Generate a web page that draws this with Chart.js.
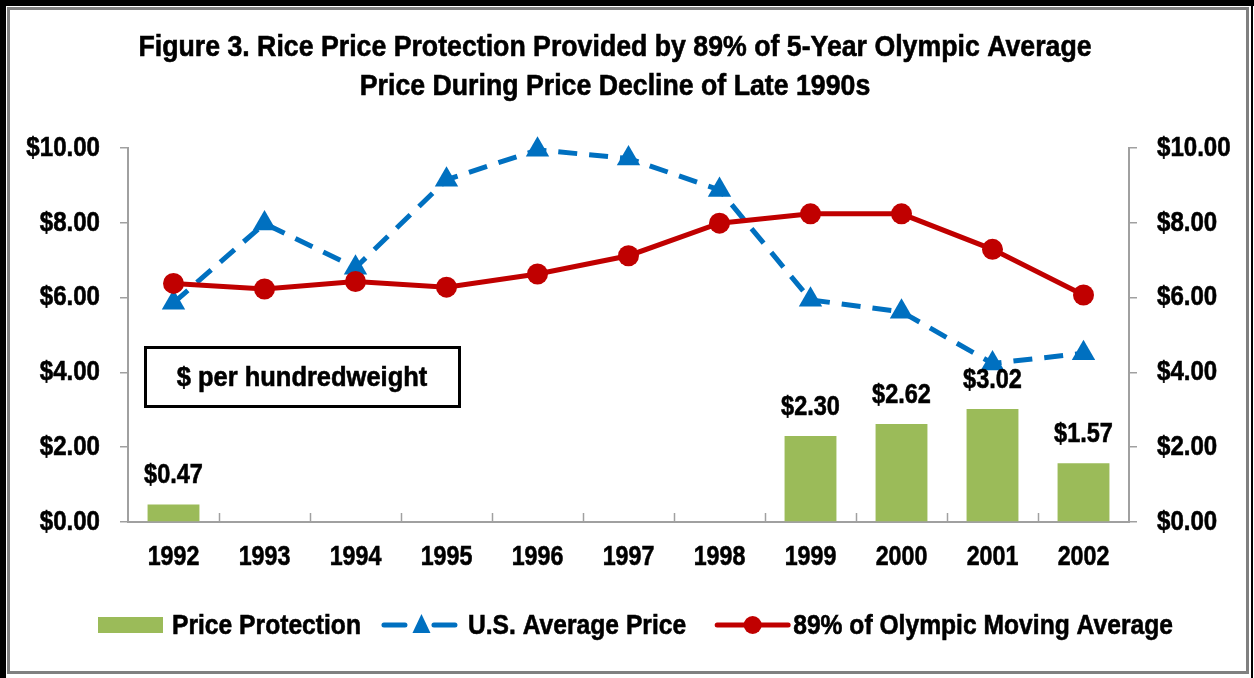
<!DOCTYPE html>
<html>
<head>
<meta charset="utf-8">
<script src="https://cdn.jsdelivr.net/npm/chart.js@4.4.1/dist/chart.umd.min.js"></script>
<style>
  html, body { margin: 0; padding: 0; background: #fff; }
  #wrap { width: 1254px; height: 678px; position: relative; }
</style>
</head>
<body>
<div id="wrap"><canvas id="riceChart" width="1254" height="678"></canvas></div>
<script>
// data ($ per cwt)
const years = ['1992', '1993', '1994', '1995', '1996', '1997', '1998', '1999', '2000', '2001', '2002'];
const protection = [0.47, null, null, null, null, null, null, 2.30, 2.62, 3.02, 1.57];
const usPrice = [5.86, 7.98, 6.80, 9.15, 9.95, 9.72, 8.88, 5.94, 5.62, 4.24, 4.51];
const olympic89 = [6.38, 6.23, 6.43, 6.28, 6.63, 7.12, 7.99, 8.24, 8.24, 7.29, 6.07];
const yTicks = [0, 2, 4, 6, 8, 10];

const titleLines = [
    'Figure 3. Rice Price Protection Provided by 89% of 5-Year Olympic Average',
    'Price During Price Decline of Late 1990s'
];
const unitNote = '$ per hundredweight';

// no Arial Narrow here, so bold Liberation Sans squeezed sideways
const FONT = '"Liberation Sans", Arial, sans-serif';
const SQUEEZE = 0.86;
const GREEN = '#9BBB59';
const BLUE = '#0070C0';
const RED = '#C00000';
const AXIS = '#A0A0A0';

const money = v => '$' + Number(v).toFixed(2);

function narrowText(ctx, text, x, y, align, size, sx) {
    ctx.save();
    ctx.font = 'bold ' + size + 'px ' + FONT;
    ctx.translate(x, y);
    ctx.scale(sx || SQUEEZE, 1);
    ctx.textAlign = align;
    ctx.fillText(text, 0, 0);
    // a hair of stroke so it reads as heavy as the original
    ctx.strokeStyle = ctx.fillStyle;
    ctx.lineWidth = 0.6;
    ctx.strokeText(text, 0, 0);
    ctx.restore();
}

function narrowWidth(ctx, text, size, sx) {
    ctx.save();
    ctx.font = 'bold ' + size + 'px ' + FONT;
    const w = ctx.measureText(text).width * (sx || SQUEEZE);
    ctx.restore();
    return w;
}

const decorations = {
    id: 'decorations',
    beforeDraw(chart) {
        const ctx = chart.ctx;
        ctx.save();
        ctx.fillStyle = '#fff';
        ctx.fillRect(0, 0, chart.width, chart.height);
        // outer black edge (top / left / right)
        ctx.fillStyle = '#000';
        ctx.fillRect(0, 0, chart.width, 6);
        ctx.fillRect(0, 0, 6, chart.height);
        ctx.fillRect(chart.width - 3, 0, 2, chart.height);
        // inner grey line
        ctx.strokeStyle = '#808080';
        ctx.lineWidth = 3;
        ctx.strokeRect(8.5, 8.5, chart.width - 6.5 - 8.5, chart.height - 5.5 - 8.5);

        ctx.fillStyle = '#000';
        ctx.textBaseline = 'middle';
        narrowText(ctx, titleLines[0], 615, 48, 'center', 30, 0.89);
        narrowText(ctx, titleLines[1], 615, 87, 'center', 30, 0.89);
        ctx.restore();
    },
    afterDatasetsDraw(chart) {
        const ctx = chart.ctx;
        const area = chart.chartArea;
        const x = chart.scales.x;
        const y = chart.scales.y;
        ctx.save();

        // small category ticks rising from the x axis
        ctx.strokeStyle = AXIS;
        ctx.lineWidth = 1.5;
        const step = x.getPixelForValue(1) - x.getPixelForValue(0);
        for (let i = 1; i < years.length; i++) {
            const px = Math.round(x.getPixelForValue(i) - step / 2) + 0.5;
            ctx.beginPath();
            ctx.moveTo(px, area.bottom);
            ctx.lineTo(px, area.bottom - 9);
            ctx.stroke();
        }

        ctx.fillStyle = '#000';
        ctx.textBaseline = 'middle';
        // axis labels
        years.forEach((yr, i) => narrowText(ctx, yr, x.getPixelForValue(i), area.bottom + 35, 'center', 28, 0.83));
        yTicks.forEach(v => {
            const py = y.getPixelForValue(v);
            narrowText(ctx, money(v), area.left - 28, py, 'right', 28);
            narrowText(ctx, money(v), area.right + 28, py, 'left', 28);
        });

        // value labels above bars
        ctx.textBaseline = 'bottom';
        chart.getDatasetMeta(0).data.forEach((bar, i) => {
            const v = protection[i];
            if (v == null) return;
            narrowText(ctx, money(v), bar.x, bar.y - 15, 'center', 28, 0.84);
        });

        // unit box
        ctx.fillStyle = '#fff';
        ctx.fillRect(145, 347, 315, 60);
        ctx.strokeStyle = '#000';
        ctx.lineWidth = 3;
        ctx.strokeRect(145.5, 347.5, 314, 59);
        ctx.fillStyle = '#000';
        ctx.textBaseline = 'middle';
        narrowText(ctx, unitNote, 302, 378, 'center', 28, 0.91);
        ctx.restore();
    },
    afterDraw(chart) {
        const ctx = chart.ctx;
        ctx.save();
        ctx.textBaseline = 'middle';
        const items = chart.data.datasets.map(ds => ds.label);
        const symW = [65, 77, 75];
        const symGap = [9, 10, 3];
        const itemGap = [20, 29];
        const LEG = 0.88;
        let cx = 98;
        const cy = 625;
        items.forEach((label, i) => {
            if (i === 0) {
                ctx.fillStyle = GREEN;
                ctx.fillRect(cx, cy - 8, symW[0], 16);
            } else if (i === 1) {
                ctx.strokeStyle = BLUE;
                ctx.lineWidth = 5;
                ctx.lineCap = 'round';
                ctx.beginPath();
                ctx.moveTo(cx + 3, cy);
                ctx.lineTo(cx + 24, cy);
                ctx.moveTo(cx + symW[1] - 24, cy);
                ctx.lineTo(cx + symW[1] - 3, cy);
                ctx.stroke();
                ctx.fillStyle = BLUE;
                const mx = cx + symW[1] / 2 + 2;
                ctx.beginPath();
                ctx.moveTo(mx, cy - 11);
                ctx.lineTo(mx + 9, cy + 8);
                ctx.lineTo(mx - 9, cy + 8);
                ctx.closePath();
                ctx.fill();
            } else {
                ctx.strokeStyle = RED;
                ctx.lineWidth = 5;
                ctx.lineCap = 'round';
                ctx.beginPath();
                ctx.moveTo(cx + 2, cy);
                ctx.lineTo(cx + symW[2] - 2, cy);
                ctx.stroke();
                ctx.fillStyle = RED;
                ctx.beginPath();
                ctx.arc(cx + symW[2] / 2, cy, 9, 0, Math.PI * 2);
                ctx.fill();
            }
            ctx.fillStyle = '#000';
            const tx = cx + symW[i] + symGap[i];
            narrowText(ctx, label, tx, cy + 1, 'left', 28, LEG);
            cx = tx + narrowWidth(ctx, label, 28, LEG) + (itemGap[i] || 0);
        });
        ctx.restore();
    }
};

new Chart(document.getElementById('riceChart'), {
    type: 'bar',
    data: {
        labels: years,
        datasets: [
            {
                type: 'bar',
                label: 'Price Protection',
                data: protection,
                backgroundColor: GREEN,
                barPercentage: 0.57,
                categoryPercentage: 1,
                yAxisID: 'y',
                order: 2
            },
            {
                type: 'line',
                label: 'U.S. Average Price',
                data: usPrice,
                borderColor: BLUE,
                backgroundColor: BLUE,
                borderWidth: 5,
                borderDash: [19, 12],
                tension: 0,
                clip: false,
                pointStyle: 'triangle',
                pointRadius: 13.5,
                pointBorderWidth: 0,
                pointBackgroundColor: BLUE,
                yAxisID: 'y',
                order: 1
            },
            {
                type: 'line',
                label: '89% of Olympic Moving Average',
                data: olympic89,
                borderColor: RED,
                backgroundColor: RED,
                borderWidth: 5,
                tension: 0,
                clip: false,
                pointStyle: 'circle',
                pointRadius: 10.5,
                pointBorderWidth: 0,
                pointBackgroundColor: RED,
                yAxisID: 'y',
                order: 0
            }
        ]
    },
    options: {
        responsive: false,
        devicePixelRatio: 1,
        animation: false,
        layout: { padding: { top: 148, bottom: 96, left: 0, right: 0 } },
        plugins: {
            legend: { display: false },
            title: { display: false },
            tooltip: { enabled: false }
        },
        scales: {
            x: {
                grid: { display: false, drawTicks: false },
                border: { color: AXIS, width: 2 },
                ticks: { display: false },
                afterFit: s => { s.height = 60; }
            },
            y: {
                position: 'left',
                min: 0,
                max: 10,
                afterBuildTicks: s => { s.ticks = yTicks.map(v => ({ value: v })); },
                grid: { drawOnChartArea: false, color: AXIS, tickLength: 8, lineWidth: 1.5 },
                border: { color: AXIS, width: 2 },
                ticks: { display: false },
                afterFit: s => { s.width = 128; }
            },
            y2: {
                position: 'right',
                min: 0,
                max: 10,
                afterBuildTicks: s => { s.ticks = yTicks.map(v => ({ value: v })); },
                grid: { drawOnChartArea: false, color: AXIS, tickLength: 8, lineWidth: 1.5 },
                border: { color: AXIS, width: 2 },
                ticks: { display: false },
                afterFit: s => { s.width = 125; }
            }
        }
    },
    plugins: [decorations]
});
</script>
</body>
</html>
